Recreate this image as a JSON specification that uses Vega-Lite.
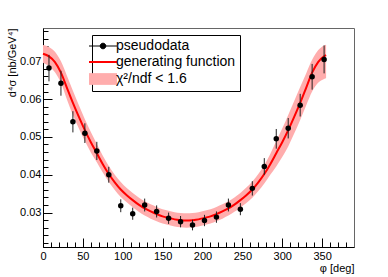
{
  "$schema": "https://vega.github.io/schema/vega-lite/v6.json",
  "width": 311,
  "height": 219,
  "autosize": "none",
  "padding": {"left": 43, "top": 28, "right": 34, "bottom": 30},
  "background": "white",
  "config": {
    "font": "Liberation Sans",
    "view": {"stroke": "#666", "strokeWidth": 1},
    "legend": {"strokeColor": "black", "fillColor": "white"},
    "axis": {"domainColor": "black", "tickColor": "black", "labelColor": "black", "titleColor": "black", "grid": false, "labelFont": "Liberation Sans", "titleFont": "Liberation Sans", "labelFontSize": 11, "titleFontSize": 11, "titleFontWeight": "normal", "labelOverlap": false, "labelFlush": false}
  },
  "resolve": {"axis": {"x": "independent", "y": "independent"}},
  "datasets": {
    "curve": [
      {"phi": 0, "f": 0.0720, "lo": 0.0696, "hi": 0.0743},
      {"phi": 7.5, "f": 0.0713, "lo": 0.0687, "hi": 0.0738},
      {"phi": 15, "f": 0.0698, "lo": 0.0671, "hi": 0.0725},
      {"phi": 22.5, "f": 0.0670, "lo": 0.0643, "hi": 0.0700},
      {"phi": 30, "f": 0.0630, "lo": 0.0599, "hi": 0.0662},
      {"phi": 37.5, "f": 0.0590, "lo": 0.0558, "hi": 0.0622},
      {"phi": 45, "f": 0.0553, "lo": 0.0522, "hi": 0.0584},
      {"phi": 52.5, "f": 0.0518, "lo": 0.0489, "hi": 0.0547},
      {"phi": 60, "f": 0.0486, "lo": 0.0459, "hi": 0.0513},
      {"phi": 67.5, "f": 0.0457, "lo": 0.0433, "hi": 0.0481},
      {"phi": 75, "f": 0.0428, "lo": 0.0406, "hi": 0.0450},
      {"phi": 82.5, "f": 0.0402, "lo": 0.0381, "hi": 0.0423},
      {"phi": 90, "f": 0.0380, "lo": 0.0360, "hi": 0.0400},
      {"phi": 97.5, "f": 0.0361, "lo": 0.0341, "hi": 0.0381},
      {"phi": 105, "f": 0.0346, "lo": 0.0327, "hi": 0.0365},
      {"phi": 112.5, "f": 0.0333, "lo": 0.0314, "hi": 0.0352},
      {"phi": 120, "f": 0.0321, "lo": 0.0302, "hi": 0.0340},
      {"phi": 127.5, "f": 0.0311, "lo": 0.0292, "hi": 0.0330},
      {"phi": 135, "f": 0.0303, "lo": 0.0284, "hi": 0.0322},
      {"phi": 142.5, "f": 0.0296, "lo": 0.0277, "hi": 0.0315},
      {"phi": 150, "f": 0.0290, "lo": 0.0271, "hi": 0.0309},
      {"phi": 157.5, "f": 0.0286, "lo": 0.0267, "hi": 0.0305},
      {"phi": 165, "f": 0.0282, "lo": 0.0263, "hi": 0.0301},
      {"phi": 172.5, "f": 0.0280, "lo": 0.0261, "hi": 0.0299},
      {"phi": 180, "f": 0.0279, "lo": 0.0260, "hi": 0.0298},
      {"phi": 187.5, "f": 0.0280, "lo": 0.0261, "hi": 0.0299},
      {"phi": 195, "f": 0.0282, "lo": 0.0263, "hi": 0.0301},
      {"phi": 202.5, "f": 0.0286, "lo": 0.0267, "hi": 0.0305},
      {"phi": 210, "f": 0.0290, "lo": 0.0271, "hi": 0.0309},
      {"phi": 217.5, "f": 0.0296, "lo": 0.0277, "hi": 0.0315},
      {"phi": 225, "f": 0.0303, "lo": 0.0284, "hi": 0.0322},
      {"phi": 232.5, "f": 0.0311, "lo": 0.0292, "hi": 0.0330},
      {"phi": 240, "f": 0.0321, "lo": 0.0302, "hi": 0.0340},
      {"phi": 247.5, "f": 0.0333, "lo": 0.0313, "hi": 0.0352},
      {"phi": 255, "f": 0.0346, "lo": 0.0325, "hi": 0.0366},
      {"phi": 262.5, "f": 0.0361, "lo": 0.0339, "hi": 0.0382},
      {"phi": 270, "f": 0.0380, "lo": 0.0357, "hi": 0.0402},
      {"phi": 277.5, "f": 0.0402, "lo": 0.0377, "hi": 0.0426},
      {"phi": 285, "f": 0.0428, "lo": 0.0400, "hi": 0.0455},
      {"phi": 292.5, "f": 0.0457, "lo": 0.0422, "hi": 0.0489},
      {"phi": 300, "f": 0.0486, "lo": 0.0447, "hi": 0.0522},
      {"phi": 307.5, "f": 0.0518, "lo": 0.0475, "hi": 0.0558},
      {"phi": 315, "f": 0.0553, "lo": 0.0509, "hi": 0.0595},
      {"phi": 322.5, "f": 0.0590, "lo": 0.0545, "hi": 0.0632},
      {"phi": 330, "f": 0.0630, "lo": 0.0583, "hi": 0.0668},
      {"phi": 337.5, "f": 0.0670, "lo": 0.0620, "hi": 0.0704},
      {"phi": 345, "f": 0.0698, "lo": 0.0643, "hi": 0.0729},
      {"phi": 352.5, "f": 0.0713, "lo": 0.0653, "hi": 0.0742},
      {"phi": 355, "f": 0.0716, "lo": 0.0655, "hi": 0.0744}
    ],
    "points": [
      {"phi": 7.5, "y": 0.0682, "ylo": 0.0647, "yhi": 0.0717},
      {"phi": 22.5, "y": 0.0642, "ylo": 0.0609, "yhi": 0.0675},
      {"phi": 37.5, "y": 0.0540, "ylo": 0.0512, "yhi": 0.0568},
      {"phi": 52.5, "y": 0.0510, "ylo": 0.0484, "yhi": 0.0536},
      {"phi": 67.5, "y": 0.0463, "ylo": 0.0439, "yhi": 0.0487},
      {"phi": 82.5, "y": 0.0400, "ylo": 0.0379, "yhi": 0.0421},
      {"phi": 97.5, "y": 0.0318, "ylo": 0.0301, "yhi": 0.0335},
      {"phi": 112.5, "y": 0.0297, "ylo": 0.0281, "yhi": 0.0313},
      {"phi": 127.5, "y": 0.0320, "ylo": 0.0303, "yhi": 0.0337},
      {"phi": 142.5, "y": 0.0303, "ylo": 0.0287, "yhi": 0.0319},
      {"phi": 157.5, "y": 0.0285, "ylo": 0.0270, "yhi": 0.0300},
      {"phi": 172.5, "y": 0.0276, "ylo": 0.0261, "yhi": 0.0291},
      {"phi": 187.5, "y": 0.0267, "ylo": 0.0253, "yhi": 0.0281},
      {"phi": 202.5, "y": 0.0279, "ylo": 0.0264, "yhi": 0.0294},
      {"phi": 217.5, "y": 0.0288, "ylo": 0.0273, "yhi": 0.0303},
      {"phi": 232.5, "y": 0.0320, "ylo": 0.0303, "yhi": 0.0337},
      {"phi": 247.5, "y": 0.0309, "ylo": 0.0293, "yhi": 0.0325},
      {"phi": 262.5, "y": 0.0364, "ylo": 0.0345, "yhi": 0.0383},
      {"phi": 277.5, "y": 0.0422, "ylo": 0.0400, "yhi": 0.0444},
      {"phi": 292.5, "y": 0.0495, "ylo": 0.0469, "yhi": 0.0521},
      {"phi": 307.5, "y": 0.0523, "ylo": 0.0496, "yhi": 0.0550},
      {"phi": 322.5, "y": 0.0584, "ylo": 0.0554, "yhi": 0.0614},
      {"phi": 337.5, "y": 0.0659, "ylo": 0.0625, "yhi": 0.0693},
      {"phi": 352.5, "y": 0.0705, "ylo": 0.0668, "yhi": 0.0742}
    ]
  },
  "layer": [
    {
      "data": {"name": "curve"},
      "mark": {"type": "area", "interpolate": "monotone", "opacity": 1},
      "encoding": {
        "x": {
          "field": "phi",
          "type": "quantitative",
          "scale": {"domain": [0, 390], "nice": false, "zero": false},
          "axis": {
            "orient": "bottom",
            "title": "φ [deg]",
            "values": [0, 50, 100, 150, 200, 250, 300, 350],
            "tickSize": -9,
            "labelPadding": 12,
            "titleAnchor": "end",
            "titleAlign": "right",
            "titleBaseline": "middle",
            "titleX": 311,
            "titleY": 21
          }
        },
        "y": {
          "field": "lo",
          "type": "quantitative",
          "scale": {"domain": [0.0209, 0.0788], "nice": false, "zero": false},
          "axis": {
            "orient": "left",
            "title": "d⁴σ [nb/GeV⁴]",
            "values": [0.03, 0.04, 0.05, 0.06, 0.07],
            "format": ".2f",
            "tickSize": -9,
            "labelPadding": 11,
            "titleAnchor": "end",
            "titleAngle": -90,
            "titleAlign": "right",
            "titleBaseline": "middle",
            "titleX": -31,
            "titleY": 0
          }
        },
        "y2": {"field": "hi"},
        "fill": {
          "datum": "χ²/ndf < 1.6",
          "scale": {"domain": ["pseudodata", "generating function", "χ²/ndf < 1.6"], "range": ["black", "#ff0000", "#ffadad"]},
          "legend": {
            "title": null,
            "orient": "none",
            "legendX": 49,
            "legendY": 7,
            "padding": 4,
            "fillColor": "white",
            "strokeColor": "black",
            "cornerRadius": 0,
            "labelFont": "Liberation Sans",
            "labelFontSize": 14,
            "labelColor": "black",
            "labelOffset": 6,
            "symbolSize": 784,
            "rowPadding": 2,
            "symbolOpacity": 1,
            "symbolType": {"expr": "datum.value === 'pseudodata' ? 'M-1,0H1M-0.2,0A0.2,0.2,0,1,1,0.2,0A0.2,0.2,0,1,1,-0.2,0Z' : (datum.value === 'generating function' ? 'M-1,0H1' : 'M-1,-0.42H1V0.42H-1Z')"},
            "symbolStrokeColor": {"expr": "datum.value === 'pseudodata' ? 'black' : (datum.value === 'generating function' ? '#ff0000' : 'transparent')"},
            "symbolStrokeWidth": {"expr": "datum.value === 'generating function' ? 2 : 1"}
          }
        }
      }
    },
    {
      "data": {"name": "curve"},
      "mark": {"type": "line", "interpolate": "monotone", "color": "#ff0000", "strokeWidth": 2},
      "encoding": {
        "x": {
          "field": "phi", "type": "quantitative",
          "axis": {"orient": "bottom", "title": null, "labels": false, "domain": false, "tickSize": -5,
            "values": [10,20,30,40,60,70,80,90,110,120,130,140,160,170,180,190,210,220,230,240,260,270,280,290,310,320,330,340,360,370,380]}
        },
        "y": {
          "field": "f", "type": "quantitative",
          "axis": {"orient": "left", "title": null, "labels": false, "domain": false, "tickSize": -5,
            "values": [0.022,0.024,0.026,0.028,0.032,0.034,0.036,0.038,0.042,0.044,0.046,0.048,0.052,0.054,0.056,0.058,0.062,0.064,0.066,0.068,0.072,0.074,0.076,0.078]}
        }
      }
    },
    {
      "data": {"name": "points"},
      "mark": {"type": "rule", "color": "#222", "strokeWidth": 1},
      "encoding": {
        "x": {"field": "phi", "type": "quantitative", "axis": null},
        "y": {"field": "ylo", "type": "quantitative", "axis": null},
        "y2": {"field": "yhi"}
      }
    },
    {
      "data": {"name": "points"},
      "mark": {"type": "point", "filled": true, "color": "black", "size": 30, "opacity": 1},
      "encoding": {
        "x": {"field": "phi", "type": "quantitative", "axis": null},
        "y": {"field": "y", "type": "quantitative", "axis": null}
      }
    }
  ]
}
